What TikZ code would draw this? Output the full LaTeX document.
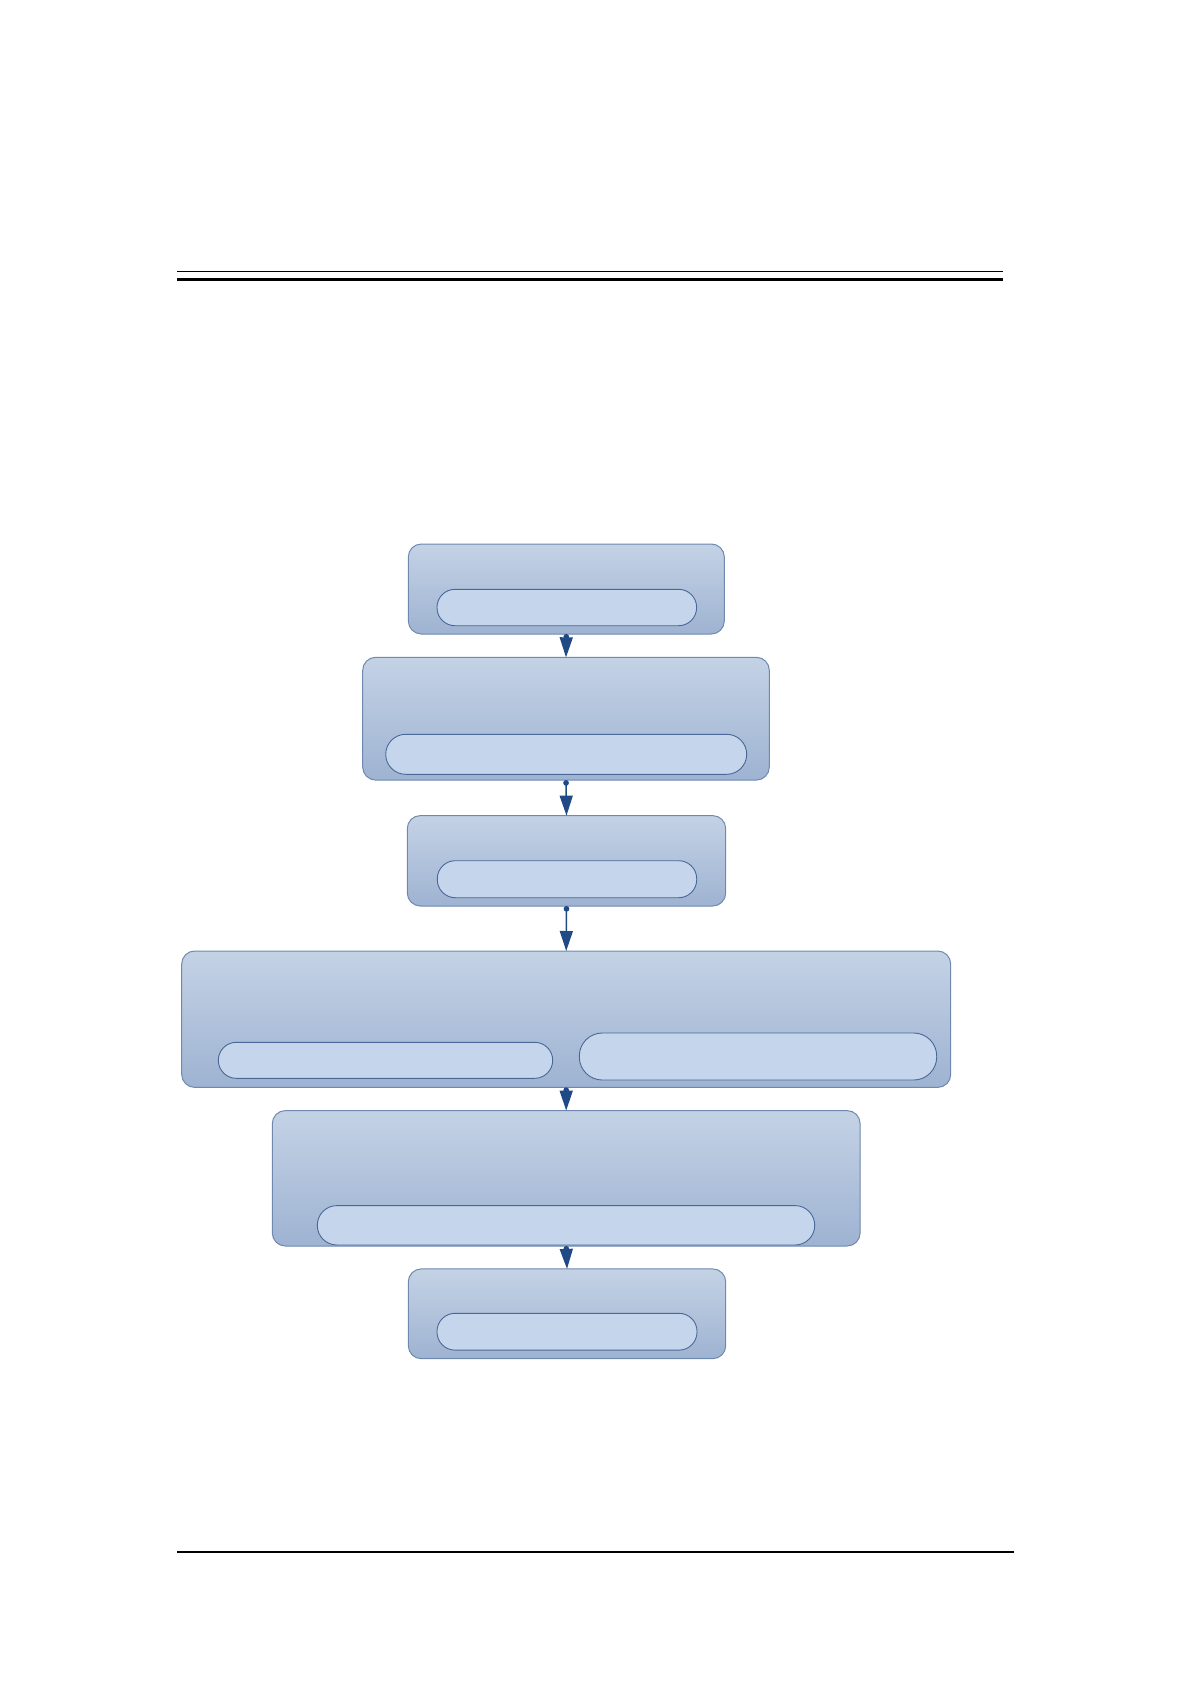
\documentclass[tikz,border=0pt]{standalone}
\usepackage{tikz}
\usetikzlibrary{arrows.meta,positioning}

\definecolor{boxtop}{HTML}{C4D2E5}
\definecolor{boxmid}{HTML}{B2C4DD}
\definecolor{boxbot}{HTML}{9EB3D2}
\definecolor{boxline}{HTML}{6F88AE}
\definecolor{pillfill}{HTML}{C5D6EC}
\definecolor{pillline}{HTML}{4A6897}
\definecolor{linkblue}{HTML}{1F4A85}

\begin{document}
\begin{tikzpicture}[
  x=0.5pt, y=-0.5pt,
  stage/.style={draw=boxline, line width=0.5pt, rounded corners=6.5pt,
    top color=boxtop, middle color=boxmid, bottom color=boxbot,
    inner sep=0pt, outer sep=0pt},
  pill/.style={draw=pillline, line width=0.45pt, rounded corners=9pt,
    fill=pillfill, inner sep=0pt, outer sep=0pt},
  link/.style={draw=linkblue, line width=0.75pt,
    {Circle[length=2.8pt]}-{Triangle[length=10pt,width=6.5pt]}},
  rule/.style={line cap=butt}
]
\useasboundingbox (0,0) rectangle (1191,1684);

% rules
\draw[rule, line width=0.7pt] (177,271.3) -- (1002.7,271.3);
\draw[rule, line width=1.7pt] (177,279.5) -- (1002.7,279.5);
\draw[rule, line width=1.2pt] (177,1552) -- (1014,1552);

% stages
\node[stage, minimum width=158pt, minimum height=45pt] (s1) at (566.3,589) {};
\node[pill, minimum width=129.8pt, minimum height=18.2pt] (p1) at (566.8,607.5) {};

\node[stage, minimum width=203.3pt, minimum height=61.4pt] (s2) at (566,718.7) {};
\node[pill, minimum width=180.5pt, minimum height=20pt, rounded corners=10pt] (p2) at (566.2,754.3) {};

\node[stage, minimum width=159.2pt, minimum height=45.2pt] (s3) at (566.5,860.8) {};
\node[pill, minimum width=129.7pt, minimum height=18.5pt] (p3) at (567,879.2) {};

\node[stage, minimum width=384.5pt, minimum height=68.2pt] (s4) at (566.2,1019.2) {};
\node[pill, minimum width=167.2pt, minimum height=18pt] (p4a) at (385.5,1060.3) {};
\node[pill, minimum width=178.7pt, minimum height=23.5pt, rounded corners=11.5pt] (p4b) at (758,1056.5) {};

\node[stage, minimum width=293.9pt, minimum height=67.7pt] (s5) at (566.2,1178.3) {};
\node[pill, minimum width=248.7pt, minimum height=19.7pt, rounded corners=9.8pt] (p5) at (566,1225.3) {};

\node[stage, minimum width=158.7pt, minimum height=44.9pt] (s6) at (567,1313.8) {};
\node[pill, minimum width=130pt, minimum height=18.4pt] (p6) at (567,1331.7) {};

% links
\draw[link] (s1.south) -- (s2.north);
\draw[link] (s2.south) -- (s3.north);
\draw[link] (s3.south) -- (s4.north);
\draw[link] (s4.south) -- (s5.north);
\draw[link] (s5.south) -- (s6.north);

\end{tikzpicture}
\end{document}
